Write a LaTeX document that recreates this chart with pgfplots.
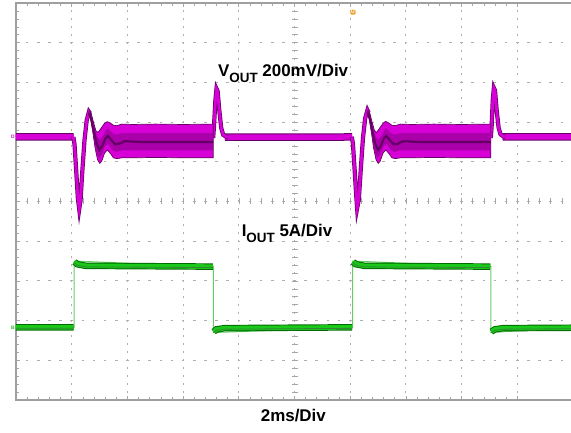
\documentclass[border=0pt]{standalone}
\usepackage{fontspec}
\setmainfont{Liberation Sans}
\usepackage{pgfplots}
\usepackage{pgfplotstable}
\pgfplotsset{compat=1.18}

\definecolor{mag}{RGB}{215,0,215}
\definecolor{magmid}{RGB}{170,0,170}
\definecolor{magdark}{RGB}{100,0,100}
\definecolor{grn}{RGB}{25,200,25}
\definecolor{grnlight}{RGB}{100,205,100}
\definecolor{grndark}{RGB}{0,105,0}
\definecolor{scopeorange}{RGB}{240,160,40}
\definecolor{grat}{RGB}{175,175,175}

\newcommand\lbl{\fontsize{17}{20}\selectfont\bfseries}
\newcommand\sub[1]{\raisebox{-6bp}{\fontsize{13.5}{14}\selectfont #1}}

% VOUT, channel D (time in ms, level in divisions)
\pgfplotstableread{
t y
0 1.625
2.07 1.625
nan nan
7.50 1.62
12.07 1.625
nan nan
17.47 1.63
19.93 1.63
}\voutbase

\pgfplotstableread{
t y
2.06 1.625
2.10 1.45
2.16 0.80
2.22 0.10
2.27 -0.19
2.32 0.05
2.38 0.75
2.46 1.55
2.54 2.05
2.62 2.26
2.66 2.22
nan nan
12.06 1.63
12.10 1.45
12.16 0.80
12.22 0.12
12.25 -0.17
12.31 0.05
12.38 0.80
12.46 1.60
12.54 2.10
12.62 2.30
12.66 2.24
}\voutdip

\pgfplotstableread{
t y
2.60 2.20
2.64 2.28
2.70 2.22
2.78 2.00
2.87 1.78
2.95 1.74
3.05 1.84
3.17 1.96
3.27 2.01
3.38 1.98
3.50 1.92
3.62 1.91
3.80 1.95
4.20 1.94
5.00 1.95
6.00 1.94
7.08 1.95
7.08 1.10
6.00 1.10
5.00 1.11
4.20 1.10
3.80 1.10
3.62 1.08
3.50 1.10
3.40 1.20
3.28 1.30
3.18 1.22
3.08 1.02
3.01 0.96
2.93 1.05
2.84 1.35
2.76 1.75
2.68 2.08
}\vbandA

\pgfplotstableread{
t y
12.60 2.22
12.64 2.30
12.70 2.24
12.78 2.02
12.87 1.79
12.95 1.74
13.05 1.84
13.17 1.96
13.27 2.02
13.38 1.98
13.50 1.92
13.62 1.91
13.80 1.95
14.20 1.94
15.00 1.95
16.00 1.94
17.05 1.95
17.05 1.10
16.00 1.10
15.00 1.11
14.20 1.10
13.80 1.10
13.62 1.08
13.50 1.10
13.40 1.20
13.28 1.30
13.18 1.22
13.08 1.02
13.01 0.96
12.93 1.05
12.84 1.35
12.76 1.75
12.68 2.10
}\vbandB

\pgfplotstableread{
t y
2.72 2.10
2.82 1.85
2.92 1.62
3.02 1.55
3.15 1.68
3.28 1.85
3.42 1.75
3.58 1.68
3.80 1.72
4.50 1.72
7.08 1.72
7.08 1.29
4.50 1.29
3.80 1.29
3.60 1.25
3.45 1.30
3.32 1.45
3.20 1.40
3.08 1.18
2.98 1.10
2.88 1.25
2.80 1.55
2.72 1.90
}\vinnerA

\pgfplotstableread{
t y
12.72 2.12
12.82 1.86
12.92 1.62
13.02 1.55
13.15 1.68
13.28 1.85
13.42 1.75
13.58 1.68
13.80 1.72
14.50 1.72
17.05 1.72
17.05 1.29
14.50 1.29
13.80 1.29
13.60 1.25
13.45 1.30
13.32 1.45
13.20 1.40
13.08 1.18
12.98 1.10
12.88 1.25
12.80 1.55
12.72 1.92
}\vinnerB

\pgfplotstableread{
t y
2.64 2.22
2.72 2.02
2.80 1.75
2.90 1.45
3.00 1.30
3.10 1.40
3.22 1.60
3.30 1.65
3.42 1.55
3.55 1.45
3.70 1.45
3.90 1.52
4.50 1.50
7.08 1.50
nan nan
12.64 2.24
12.72 2.04
12.80 1.76
12.90 1.45
13.00 1.30
13.10 1.40
13.22 1.60
13.30 1.65
13.42 1.55
13.55 1.45
13.70 1.45
13.90 1.52
14.50 1.50
17.05 1.50
}\vcenter

\pgfplotstableread{
t y
7.08 1.60
7.11 1.90
7.16 2.55
7.20 2.84
7.24 2.78
7.30 2.30
7.37 1.85
7.44 1.68
7.55 1.63
7.62 1.62
nan nan
17.05 1.60
17.08 1.90
17.12 2.55
17.16 2.86
17.20 2.80
17.26 2.30
17.33 1.86
17.40 1.69
17.50 1.64
17.58 1.63
}\vspike

% IOUT, channel B
\pgfplotstableread{
t y
0 -3.17
2.085 -3.17
2.085 -1.50
7.085 -1.64
7.085 -3.30
12.085 -3.18
12.085 -1.50
17.05 -1.64
17.05 -3.30
19.93 -3.18
}\ioutedge

\pgfplotstableread{
t y
0 -3.17
2.07 -3.17
nan nan
2.10 -1.52
2.20 -1.58
2.50 -1.62
7.07 -1.64
nan nan
7.10 -3.28
7.20 -3.22
7.50 -3.19
12.07 -3.17
nan nan
12.10 -1.52
12.20 -1.58
12.50 -1.62
17.03 -1.64
nan nan
17.07 -3.28
17.20 -3.22
17.50 -3.19
19.93 -3.18
}\ioutlevel

\begin{document}
\begin{tikzpicture}
\path[use as bounding box] (-16bp,-33bp) rectangle (555bp,400bp);
% dotted graticule, 10 x 10 divisions, five dots per division
\foreach \i in {1,...,9}
  \foreach \k in {1,...,49}
    \draw[grat, line width=1bp] (\i*55.7bp,\k*7.94bp-1bp) -- (\i*55.7bp,\k*7.94bp+1bp);
\foreach \j in {1,...,9}
  \foreach \k in {1,...,49}
    \draw[grat, line width=1bp] (\k*11.14bp-1.3bp,\j*39.7bp) -- (\k*11.14bp+1.3bp,\j*39.7bp);
% ticks along the centre lines
\foreach \k in {0,...,49}
  \draw[gray!70, line width=0.6bp] (\k*11.14bp,195.5bp) -- (\k*11.14bp,201.5bp);
\foreach \k in {0,...,50}
  \draw[gray!70, line width=0.6bp] (275.5bp,\k*7.94bp) -- (281.5bp,\k*7.94bp);
\begin{axis}[
    scale only axis,
    width=555bp, height=397bp,
    xmin=0, xmax=19.93,
    ymin=-5, ymax=5,
    xtick={0,2,...,18},
    ytick={-5,-4,...,5},
    minor x tick num=4, minor y tick num=4,
    xticklabels={}, yticklabels={},
    tick align=inside,
    xtick pos=both, ytick pos=left,
    major tick length=4bp, minor tick length=3bp,
    every tick/.style={gray!70, line width=0.6bp},
    axis line style={draw=none},
    clip=false,
    unbounded coords=jump,
  ]
  \draw[gray!75, line width=1.2bp] (rel axis cs:1,1) -- (rel axis cs:0,1) -- (rel axis cs:0,0) -- (rel axis cs:1,0);

  % IOUT
  \addplot[grnlight, line width=1bp] table {\ioutedge};
  \addplot[grndark, line width=6.5bp] table {\ioutlevel};
  \addplot[grn, line width=4.6bp] table {\ioutlevel};
  \addplot[grndark!80, line width=0.8bp, yshift=-1bp] table {\ioutlevel};

  % VOUT
  \addplot[magdark, line width=7.5bp] table {\voutbase};
  \addplot[mag, line width=5.5bp] table {\voutbase};
  \addplot[magdark, line width=4.2bp] table {\voutdip};
  \addplot[mag, line width=2.8bp] table {\voutdip};
  \addplot[magdark, line width=4.2bp] table {\vspike};
  \addplot[mag, line width=2.8bp] table {\vspike};
  \addplot[fill=mag, draw=magdark, line width=0.7bp] table {\vbandA} -- cycle;
  \addplot[fill=mag, draw=magdark, line width=0.7bp] table {\vbandB} -- cycle;
  \addplot[fill=magmid, draw=none] table {\vinnerA} -- cycle;
  \addplot[fill=magmid, draw=none] table {\vinnerB} -- cycle;
  \addplot[magdark, line width=2.2bp] table {\vcenter};

  % channel and trigger indicators
  \node[anchor=east, inner sep=1bp, text=mag, font=\tiny\bfseries] at (axis cs:0,1.625) {D};
  \node[anchor=east, inner sep=1bp, text=grn, font=\tiny\bfseries] at (axis cs:0,-3.17) {B};
  \node[fill=scopeorange, rounded corners=1bp, inner sep=0.8bp, text=white, font=\tiny\bfseries] at (axis cs:12.1,4.77) {U};

  % labels
  \node[anchor=base west, inner sep=0pt, font=\lbl] at (axis cs:7.25,3.144) {V\sub{OUT} 200mV/Div};
  \node[anchor=base west, inner sep=0pt, font=\lbl] at (axis cs:8.10,-0.887) {I\sub{OUT} 5A/Div};
  \node[anchor=base, inner sep=0pt, font=\lbl] at (axis cs:9.96,-5.54) {2ms/Div};
\end{axis}
\end{tikzpicture}
\end{document}
